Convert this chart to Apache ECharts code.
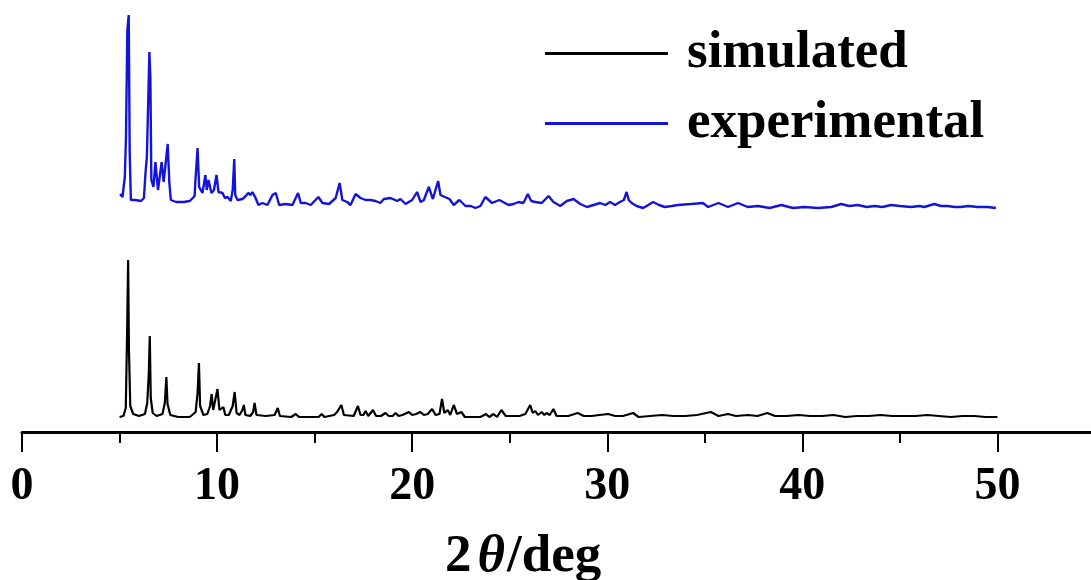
<!DOCTYPE html>
<html>
<head>
<meta charset="utf-8">
<script src="https://cdn.jsdelivr.net/npm/echarts@6/dist/echarts.min.js"></script>
<style>html,body{margin:0;padding:0;background:#fff;overflow:hidden;width:1091px;height:580px;}#chart{width:1098px;height:580px;}</style>
</head>
<body>
<div id="chart"></div>
<script>
// ---- Data ----
const seriesNames = ['simulated', 'experimental'];
const xTickLabels = ['0', '10', '20', '30', '40', '50'];

// simulated pattern: [2theta, intensity (a.u.)]
const simulated = [
[5.0,1],[5.2,2],[5.32,10],[5.39,88],[5.44,158],[5.48,70],[5.55,12],[5.7,4],[6.0,2],[6.3,4],[6.42,15],[6.5,45],[6.55,82],[6.6,20],[6.7,5],[6.9,2],[7.2,4],[7.32,15],[7.4,41],[7.46,14],[7.6,3],[8.0,1],[8.6,1],[8.9,6],[9.0,25],[9.07,55],[9.13,12],[9.3,3],[9.5,4],[9.64,12],[9.72,24],[9.8,8],[9.9,8],[10.02,29],[10.12,8],[10.22,6],[10.32,11],[10.42,3],[10.6,3],[10.8,12],[10.9,26],[11.0,5],[11.15,3],[11.3,8],[11.37,13],[11.45,3],[11.7,2],[11.85,6],[11.92,15],[12.02,3],[12.5,2],[12.95,3],[13.11,10],[13.22,2],[13.8,1],[14.03,4],[14.2,1],[15.2,1],[15.36,4],[15.5,1],[16.0,3],[16.15,6],[16.37,13],[16.5,3],[17.0,2],[17.22,12],[17.35,3],[17.5,3],[17.61,7],[17.75,2],[17.85,3],[17.99,8],[18.15,2],[18.4,2],[18.63,5],[18.8,2],[19.0,2],[19.15,5],[19.3,2],[19.5,3],[19.83,6],[20.0,3],[20.2,4],[20.42,6],[20.6,3],[20.8,4],[21.02,9],[21.2,3],[21.4,4],[21.53,19],[21.65,5],[21.82,8],[21.95,3],[22.13,13],[22.3,4],[22.52,6],[22.7,1],[23.5,1],[23.78,4],[23.95,1],[24.17,4],[24.35,1],[24.57,8],[24.8,2],[25.5,2],[25.8,4],[26.05,13],[26.18,5],[26.31,7],[26.45,3],[26.64,6],[26.78,3],[26.9,5],[27.05,3],[27.24,9],[27.4,2],[28.0,2],[28.48,5],[28.8,2],[29.2,2],[29.6,3],[30.05,4],[30.4,2],[30.8,2],[31.33,5],[31.6,1],[32.2,2],[32.8,3],[33.4,2],[34.0,2],[34.6,3],[35.31,6],[35.7,2],[36.19,4],[36.6,2],[37.2,3],[37.7,2],[38.2,5],[38.6,2],[39.2,2],[39.8,3],[40.4,2],[41.0,2],[41.6,3],[42.2,1],[42.8,2],[43.4,2],[44.0,3],[44.6,2],[45.2,2],[45.8,2],[46.4,3],[47.0,2],[47.6,1],[48.2,2],[48.8,2],[49.4,1],[50.0,1]
];

// experimental pattern: [2theta, intensity (a.u.)]
const experimental = [
[5.03,18],[5.15,15],[5.27,35],[5.33,75],[5.4,182],[5.47,197],[5.52,60],[5.58,12],[5.8,12],[6.1,11],[6.25,14],[6.33,39],[6.4,55],[6.48,119],[6.53,160],[6.58,135],[6.63,32],[6.74,25],[6.84,50],[6.97,22],[7.16,50],[7.26,30],[7.47,68],[7.55,30],[7.63,12],[7.9,10],[8.3,10],[8.6,11],[8.85,16],[8.88,29],[9.0,64],[9.08,25],[9.25,19],[9.4,37],[9.47,22],[9.56,32],[9.71,19],[9.84,22],[9.97,37],[10.07,20],[10.28,19],[10.4,14],[10.54,15],[10.7,11],[10.8,22],[10.88,53],[10.93,17],[11.05,12],[11.3,13],[11.47,16],[11.6,19],[11.72,17],[11.81,20],[11.95,15],[12.12,7],[12.32,9],[12.58,7],[12.84,17],[13.01,19],[13.18,7],[13.52,8],[13.86,7],[14.15,19],[14.29,9],[14.54,9],[14.8,7],[15.19,15],[15.4,9],[15.74,8],[16.08,14],[16.28,29],[16.42,12],[16.67,10],[16.84,7],[17.1,18],[17.35,14],[17.61,12],[17.86,12],[18.12,11],[18.37,9],[18.55,13],[18.89,14],[19.23,11],[19.4,13],[19.66,8],[20.0,12],[20.25,20],[20.43,10],[20.6,12],[20.85,25],[21.06,13],[21.33,31],[21.45,17],[21.67,15],[21.91,13],[22.13,7],[22.42,12],[22.73,6],[23.0,6],[23.24,4],[23.5,6],[23.75,15],[24.09,9],[24.47,12],[24.94,7],[25.2,8],[25.45,10],[25.7,9],[25.93,18],[26.1,11],[26.31,10],[26.64,9],[26.99,16],[27.24,10],[27.59,6],[27.93,11],[28.27,13],[28.61,8],[28.96,5],[29.3,7],[29.63,9],[29.9,7],[30.14,10],[30.4,7],[30.65,10],[30.85,12],[30.99,20],[31.1,12],[31.25,9],[31.5,6],[31.84,4],[32.1,7],[32.35,10],[32.65,7],[32.95,5],[33.3,6],[33.63,7],[34.3,8],[34.9,9],[35.17,5],[35.7,9],[36.19,5],[36.7,9],[37.2,5],[37.72,6],[38.32,4],[38.92,7],[39.52,4],[40.11,5],[40.8,4],[41.48,5],[41.99,8],[42.4,6],[42.84,7],[43.3,5],[43.7,6],[44.1,5],[44.55,7],[45.0,6],[45.57,5],[46.0,6],[46.25,5],[46.76,8],[47.1,6],[47.44,6],[47.8,5],[48.12,5],[48.5,6],[48.99,5],[49.5,5],[49.92,4]
];

// vertical stacking offsets of the two patterns (a.u.)
const SIM_OFFSET = 14;
const EXP_OFFSET = 220;

const FONT = '"Liberation Serif", "Times New Roman", serif';
const shift = (arr, off) => arr.map(p => [p[0], p[1] + off]);

const chart = echarts.init(document.getElementById('chart'), null, {renderer: 'canvas'});
chart.setOption({
  animation: false,
  backgroundColor: '#ffffff',
  grid: {left: 22, right: 0, top: 0, bottom: 148, containLabel: false},
  title: {
    text: '{a|2}{b|θ}{a|/deg}',
    left: 445, top: 531, padding: 0,
    textStyle: {
      rich: {
        a: {fontFamily: FONT, fontWeight: 'bold', fontSize: 53, color: '#000'},
        b: {fontFamily: FONT, fontWeight: 'bold', fontStyle: 'italic', fontSize: 53, color: '#000', padding: [0, 2, 0, 6]}
      }
    }
  },
  legend: {
    orient: 'vertical',
    left: 545, top: 27, padding: 0,
    itemGap: 17,
    itemWidth: 123, itemHeight: 3,
    icon: 'rect',
    data: seriesNames,
    textStyle: {fontFamily: FONT, fontWeight: 'bold', fontSize: 53, color: '#000', padding: [0, 0, 0, 14]}
  },
  xAxis: {
    type: 'value', min: 0, max: 55, interval: 10,
    axisLine: {show: true, onZero: false, lineStyle: {color: '#000', width: 3}},
    axisTick: {show: true, inside: false, length: 20, lineStyle: {color: '#000', width: 2}},
    minorTick: {show: true, splitNumber: 2, length: 11, lineStyle: {color: '#000', width: 2}},
    splitLine: {show: false},
    minorSplitLine: {show: false},
    axisLabel: {
      margin: 32, fontFamily: FONT, fontWeight: 'bold', fontSize: 46, color: '#000',
      formatter: v => (xTickLabels.indexOf(String(v)) >= 0 ? String(v) : '')
    }
  },
  yAxis: {type: 'value', min: 0, max: 432, show: false},
  series: [
    {name: seriesNames[0], type: 'line', data: shift(simulated, SIM_OFFSET), showSymbol: false, symbol: 'none',
     color: '#000000', lineStyle: {color: '#000000', width: 2.2}},
    {name: seriesNames[1], type: 'line', data: shift(experimental, EXP_OFFSET), showSymbol: false, symbol: 'none',
     color: '#1414d8', lineStyle: {color: '#1414d8', width: 2.4}}
  ]
});
</script>
</body>
</html>
